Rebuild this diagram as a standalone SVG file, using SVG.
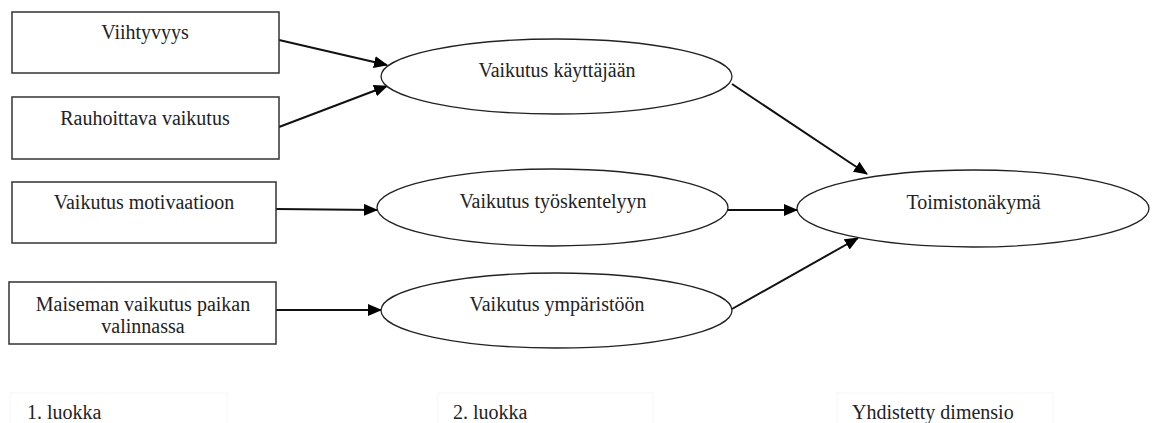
<svg xmlns="http://www.w3.org/2000/svg" width="1152" height="423" viewBox="0 0 1152 423">
<style>
.box{fill:#fff;stroke:#333;stroke-width:1.5}
.ell{fill:#fff;stroke:#222;stroke-width:1.3}
.lbl{fill:none;stroke:#f6f6f6;stroke-width:1}
text{font-family:'Liberation Serif','DejaVu Serif',serif;font-size:20px;fill:#222}
.t{text-anchor:middle}
.c{fill:none;stroke:#111;stroke-width:2}
</style>
<defs>
<marker id="ah" markerUnits="userSpaceOnUse" markerWidth="14" markerHeight="12" viewBox="0 0 14 12" refX="13" refY="6" orient="auto">
<path d="M0,0 L14,6 L0,12 Z" fill="#000"/>
</marker>
</defs>
<rect width="1152" height="423" fill="#fff"/>
<g id="connectors">
<line class="c" x1="279" y1="40" x2="387" y2="65" marker-end="url(#ah)"/>
<line class="c" x1="279" y1="127" x2="387" y2="86" marker-end="url(#ah)"/>
<line class="c" x1="276" y1="209" x2="377" y2="210" marker-end="url(#ah)"/>
<line class="c" x1="276" y1="310" x2="381" y2="310" marker-end="url(#ah)"/>
<line class="c" x1="732" y1="84" x2="867" y2="174" marker-end="url(#ah)"/>
<line class="c" x1="728" y1="210" x2="797" y2="210" marker-end="url(#ah)"/>
<line class="c" x1="732" y1="309" x2="858" y2="238" marker-end="url(#ah)"/>
</g>
<g id="n-viihtyvyys">
<rect class="box" x="12" y="12" width="267" height="61"/>
<text class="t" x="145" y="39" font-family="Liberation Serif, serif">Viihtyvyys</text>
</g>
<g id="n-rauhoittava">
<rect class="box" x="12" y="97" width="267" height="62"/>
<text class="t" x="145" y="125" font-family="Liberation Serif, serif">Rauhoittava vaikutus</text>
</g>
<g id="n-motivaatio">
<rect class="box" x="12" y="182" width="264" height="61"/>
<text class="t" x="144" y="209" font-family="Liberation Serif, serif">Vaikutus motivaatioon</text>
</g>
<g id="n-maisema">
<rect class="box" x="9" y="282" width="267" height="62"/>
<text class="t" x="143" y="311" font-family="Liberation Serif, serif">Maiseman vaikutus paikan</text>
<text class="t" x="143" y="333" font-family="Liberation Serif, serif">valinnassa</text>
</g>
<g id="n-kayttaja">
<ellipse class="ell" cx="556.5" cy="76.5" rx="175.5" ry="37.5"/>
<text class="t" x="557" y="77" font-family="Liberation Serif, serif">Vaikutus käyttäjään</text>
</g>
<g id="n-tyoskentely">
<ellipse class="ell" cx="552.5" cy="207.5" rx="175.5" ry="38.5"/>
<text class="t" x="553" y="208" font-family="Liberation Serif, serif">Vaikutus työskentelyyn</text>
</g>
<g id="n-ymparisto">
<ellipse class="ell" cx="556.5" cy="310.5" rx="175.5" ry="37.5"/>
<text class="t" x="557" y="311" font-family="Liberation Serif, serif">Vaikutus ympäristöön</text>
</g>
<g id="n-toimistonakyma">
<ellipse class="ell" cx="973" cy="208.5" rx="176" ry="38.5"/>
<text class="t" x="973.5" y="209" font-family="Liberation Serif, serif">Toimistonäkymä</text>
</g>
<g id="labels">
<rect class="lbl" x="10" y="393" width="217" height="40"/>
<text x="27" y="419" font-family="Liberation Serif, serif">1. luokka</text>
<rect class="lbl" x="438" y="393" width="215" height="40"/>
<text x="453" y="419" font-family="Liberation Serif, serif">2. luokka</text>
<rect class="lbl" x="837" y="393" width="216" height="40"/>
<text x="852" y="419" font-family="Liberation Serif, serif">Yhdistetty dimensio</text>
</g>
</svg>
